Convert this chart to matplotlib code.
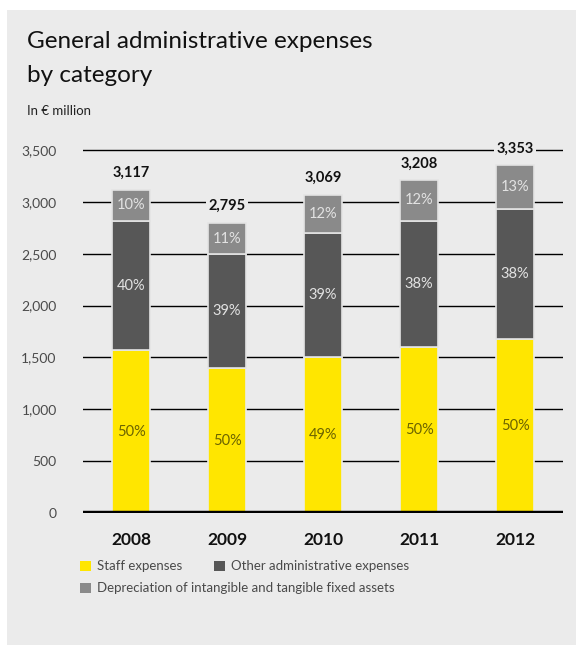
import matplotlib.pyplot as plt
from matplotlib.patches import Rectangle, Patch

# data (in EUR million)
years = ['2008', '2009', '2010', '2011', '2012']
staff = [1570, 1395, 1507, 1604, 1676]
other = [1247, 1100, 1195, 1215, 1251]
depreciation = [300, 300, 367, 389, 426]
totals = ['3,117', '2,795', '3,069', '3,208', '3,353']
staff_pct = ['50%', '50%', '49%', '50%', '50%']
other_pct = ['40%', '39%', '39%', '38%', '38%']
dep_pct = ['10%', '11%', '12%', '12%', '13%']

YELLOW = '#ffe600'
DARK = '#575757'
MID = '#8a8a8a'
PANEL = '#ebebeb'
TXT = '#4a4a4a'

plt.rcParams['font.family'] = ['Lato', 'DejaVu Sans']

W, H = 576, 648
fig = plt.figure(figsize=(W / 100, H / 100), dpi=100, facecolor='white')
fig.patches.append(Rectangle((7 / W, 3 / H), 1 - 7 / W, 1 - 13 / H,
                             transform=fig.transFigure, facecolor=PANEL,
                             edgecolor='none', zorder=-10))

fig.text(27 / W, 1 - 48 / H, 'General administrative expenses', fontsize=17.5,
         color='#111111', va='baseline')
fig.text(27 / W, 1 - 82 / H, 'by category', fontsize=17.5, color='#111111',
         va='baseline')
fig.text(27 / W, 1 - 115 / H, 'In € million', fontsize=9.5, color='#222222',
         va='baseline')

# axes: y=0 at px 513, y=3500 at px 150
px_per = (513 - 150) / 3500
ytop = 3600
ax_top = 513 - ytop * px_per
ax = fig.add_axes([83 / W, (H - 513) / H, (563 - 83) / W, (513 - ax_top) / H])
ax.set_facecolor('none')
ax.set_xlim(-0.5, 4.5)
ax.set_ylim(0, ytop)

for v in range(500, 3501, 500):
    ax.axhline(v, color='black', lw=1, zorder=1)
ax.axhline(0, color='black', lw=3.2, zorder=5)

x = range(len(years))
bw = 0.4
ax.bar(x, staff, bw, color=YELLOW, edgecolor=PANEL, lw=1.2, zorder=3)
ax.bar(x, other, bw, bottom=staff, color=DARK, edgecolor='#e4e4e4',
       lw=1.2, zorder=3)
base2 = [s + o for s, o in zip(staff, other)]
ax.bar(x, depreciation, bw, bottom=base2, color=MID, edgecolor='#e4e4e4',
       lw=1.2, zorder=3)

for i in x:
    top = base2[i] + depreciation[i]
    ax.text(i, staff[i] / 2, staff_pct[i], ha='center', va='center',
            fontsize=10.5, color='#6b6300', zorder=6)
    ax.text(i, staff[i] + other[i] / 2, other_pct[i], ha='center', va='center',
            fontsize=10.5, color='#e2e2e2', zorder=6)
    ax.text(i, base2[i] + depreciation[i] / 2, dep_pct[i], ha='center',
            va='center', fontsize=10.5, color='#e2e2e2', zorder=6)
    ax.text(i, top + 95, totals[i], ha='center', va='bottom', fontsize=10.5,
            fontweight='bold', color='#111111', zorder=6,
            bbox=dict(facecolor=PANEL, edgecolor='none', pad=2))

ax.set_yticks(range(0, 3501, 500))
ax.set_yticklabels([f'{v:,}' for v in range(0, 3501, 500)], fontsize=10,
                   color=TXT)
ax.set_xticks(list(x))
ax.set_xticklabels(years, fontsize=12.5, fontweight='bold', color='#111111')
ax.tick_params(axis='y', length=0, pad=19)
ax.tick_params(axis='x', length=0, pad=14)
for s in ax.spines.values():
    s.set_visible(False)

handles = [Patch(facecolor=YELLOW, edgecolor='none', label='Staff expenses'),
           Patch(facecolor=DARK, edgecolor='none',
                 label='Other administrative expenses'),
           Patch(facecolor=MID, edgecolor='none',
                 label='Depreciation of intangible and tangible fixed assets')]
fig.legend(handles=handles[:2], loc='upper left', ncol=2,
           bbox_to_anchor=(75 / W, 1 - 555 / H), frameon=False, fontsize=9.5,
           labelcolor=TXT, handlelength=0.8, handleheight=0.8,
           handletextpad=0.5, columnspacing=2.4, borderaxespad=0)
fig.legend(handles=handles[2:], loc='upper left',
           bbox_to_anchor=(75 / W, 1 - 577 / H), frameon=False, fontsize=9.5,
           labelcolor=TXT, handlelength=0.8, handleheight=0.8,
           handletextpad=0.5, borderaxespad=0)

fig.savefig('out.png', dpi=100, facecolor='white')
